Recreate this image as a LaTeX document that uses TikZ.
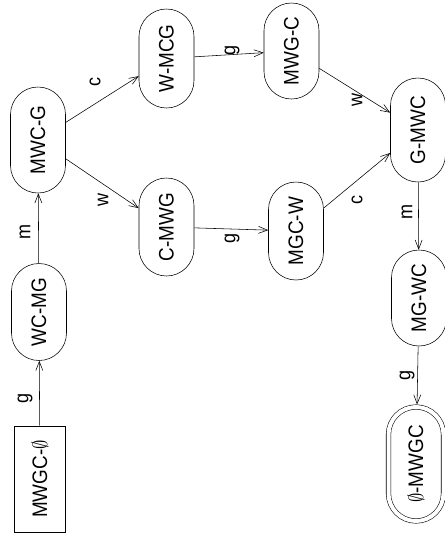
\documentclass[tikz,border=0pt]{standalone}
\usepackage{fontspec}
\setmainfont{Liberation Sans}
\usetikzlibrary{shapes.misc,arrows.meta}
\newcommand\nodetxt[1]{\scalebox{0.9}[1]{#1}}
\begin{document}
\begin{tikzpicture}[x=1pt,y=-1pt,
  state/.style={draw, rounded rectangle, rotate=90, minimum width=104pt, minimum height=55pt,
    inner sep=2pt, font=\fontsize{21}{23}\selectfont, line width=0.55pt},
  startstate/.style={draw, rectangle, rotate=90, minimum width=106pt, minimum height=51pt,
    inner sep=2pt, font=\fontsize{21}{23}\selectfont, line width=0.55pt},
  finalstate/.style={state, double, double distance=4pt, minimum width=118pt, minimum height=55pt, outer sep=2.5pt},
  edge/.style={draw, line width=0.55pt, -{Straight Barb[length=9pt,width=7pt]}},
  lbl/.style={rotate=90, font=\fontsize{20}{22}\selectfont, inner sep=0pt}]
\useasboundingbox (0,0) rectangle (445,542);

\node[startstate] (s0) at (40,479) {\nodetxt{MWGC-$\emptyset$}};
\node[state, minimum width=101pt] (s1) at (39,312) {\nodetxt{WC-MG}};
\node[state, minimum width=110pt] (s2) at (38,140) {\nodetxt{MWC-G}};
\node[state, minimum width=103pt] (s3) at (166.5,58.5) {\nodetxt{W-MCG}};
\node[state, minimum width=102pt] (s4) at (166.5,227) {\nodetxt{C-MWG}};
\node[state, minimum width=100pt] (s5) at (291.5,51) {\nodetxt{MWG-C}};
\node[state, minimum width=102pt] (s6) at (296,231) {\nodetxt{MGC-W}};
\node[state, minimum width=108pt] (s7) at (418,130) {\nodetxt{G-MWC}};
\node[state, minimum width=100pt] (s8) at (419,298) {\nodetxt{MG-WC}};
\node[finalstate] (s9) at (416,464) {\nodetxt{$\emptyset$-MWGC}};

\draw[edge] (s0) -- (s1);
\draw[edge] (s1) -- (s2);
\draw[edge] (s2) -- (s3);
\draw[edge] (s2) -- (s4);
\draw[edge] (s3) -- (s5);
\draw[edge] (s4) -- (s6);
\draw[edge] (s5) -- (s7);
\draw[edge] (s6) -- (s7);
\draw[edge] (s7) -- (s8);
\draw[edge] (s8) -- (s9);

\node[lbl] (l01) at (25,398) {\nodetxt{g}};
\node[lbl] (l12) at (25,232) {\nodetxt{m}};
\node[lbl] (l23) at (95,82) {\nodetxt{c}};
\node[lbl] (l24) at (103,200) {\nodetxt{w}};
\node[lbl] (l35) at (232,50) {\nodetxt{g}};
\node[lbl] (l46) at (232,238) {\nodetxt{g}};
\node[lbl] (l57) at (357,100) {\nodetxt{w}};
\node[lbl] (l67) at (357,200) {\nodetxt{c}};
\node[lbl] (l78) at (407,212) {\nodetxt{m}};
\node[lbl] (l89) at (407,375) {\nodetxt{g}};
\end{tikzpicture}
\end{document}
